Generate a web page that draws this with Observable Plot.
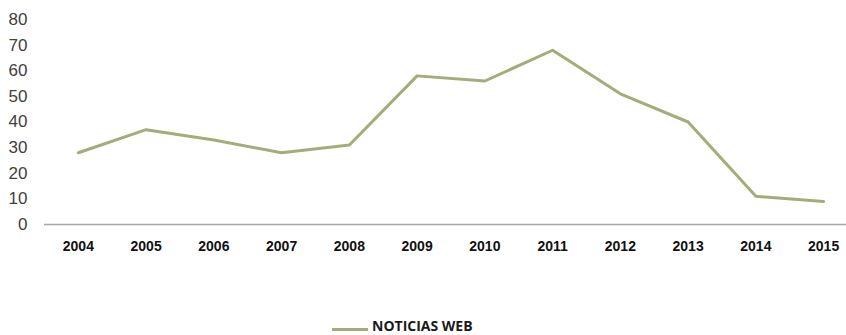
<!DOCTYPE html>
<html>
<head>
<meta charset="utf-8">
<script src="https://cdn.jsdelivr.net/npm/d3@7"></script>
<script src="https://cdn.jsdelivr.net/npm/@observablehq/plot@0.6"></script>
<style>
  html, body { margin: 0; padding: 0; background: #fff; }
  #wrap { width: 846px; height: 335px; position: relative; overflow: hidden; }
  #legend { position: absolute; left: 0; top: 318px; width: 846px; height: 16px; font-family: "Open Sans", "Liberation Sans", sans-serif; font-weight: 700; font-size: 14px; line-height: 16px; color: #1a1a1a; }
  #legend .item { position: absolute; left: 332px; top: 0; display: flex; align-items: center; }
  #legend .sw { width: 36px; height: 3px; background: #a3ad78; margin-right: 4px; margin-top: 6px; }
</style>
</head>
<body>
<div id="wrap"><div id="chart"></div><div id="legend"></div></div>
<script>
const years = ["2004","2005","2006","2007","2008","2009","2010","2011","2012","2013","2014","2015"];
const values = [28, 37, 33, 28, 31, 58, 56, 68, 51, 40, 11, 9];
const yTicks = [0, 10, 20, 30, 40, 50, 60, 70, 80];
const seriesName = "NOTICIAS WEB";

const data = years.map((y, i) => ({year: y, value: values[i]}));

const chart = Plot.plot({
  width: 846,
  height: 265,
  marginLeft: 44,
  marginRight: 0,
  marginTop: 19,
  marginBottom: 41,
  x: {type: "point", domain: years, range: [44, 857], round: false, label: null},
  y: {domain: [0, 80], ticks: yTicks, label: null},
  style: {fontFamily: "Liberation Sans, Arial, sans-serif", background: "#fff"},
  marks: [
    Plot.axisY({ticks: yTicks, tickSize: 0, tickPadding: 17, fontSize: 17, fill: "#404040", label: null}),
    Plot.axisX({tickSize: 0, tickPadding: 17, fontSize: 14, fontWeight: "bold", fill: "#111", label: null}),
    Plot.ruleY([0], {stroke: "#a6a6a6", strokeWidth: 1.5}),
    Plot.line(data, {x: "year", y: "value", stroke: "#a3ad78", strokeWidth: 3, strokeLinejoin: "round"})
  ]
});
document.getElementById("chart").appendChild(chart);

const lg = document.getElementById("legend");
const item = document.createElement("div");
item.className = "item";
const sw = document.createElement("div");
sw.className = "sw";
const tx = document.createElement("span");
tx.textContent = seriesName;
item.appendChild(sw); item.appendChild(tx);
lg.appendChild(item);
</script>
</body>
</html>
